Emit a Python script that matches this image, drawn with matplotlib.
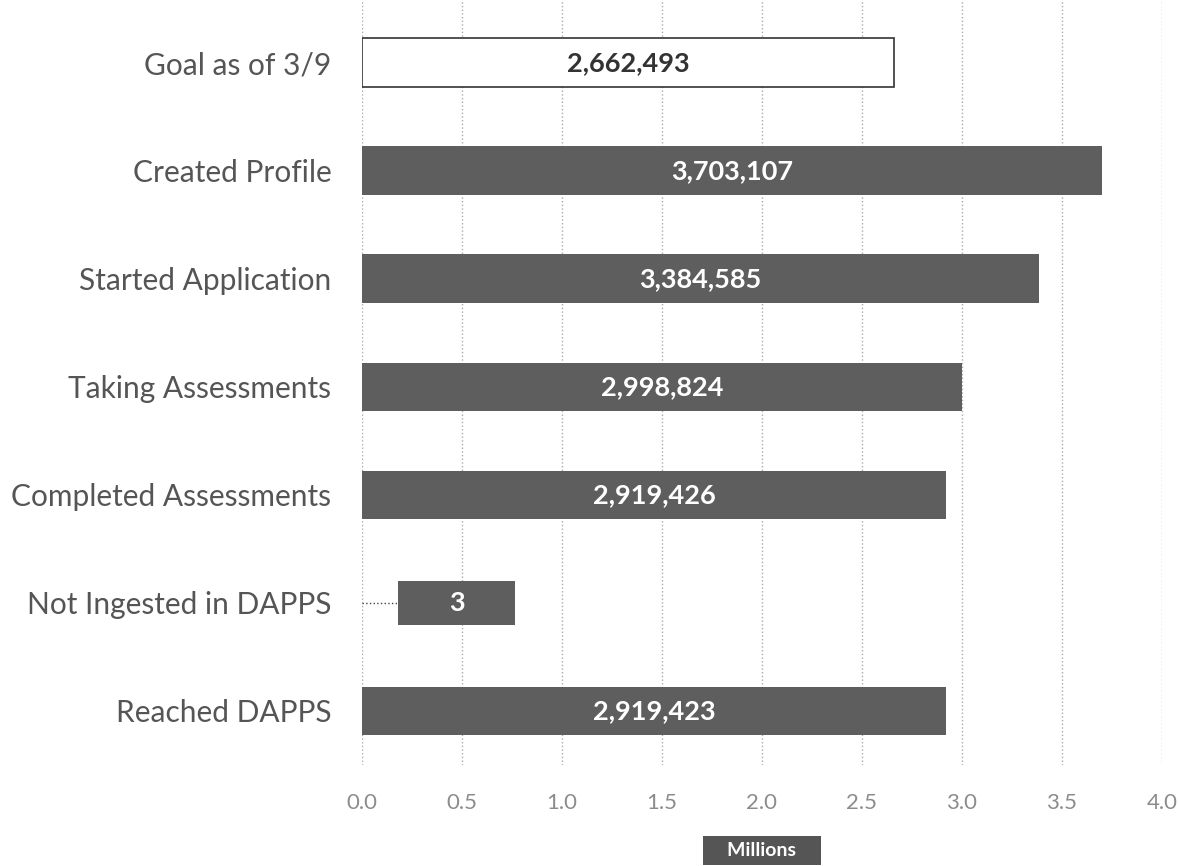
import matplotlib
matplotlib.use('Agg')
import matplotlib.pyplot as plt

categories = ['Goal as of 3/9', 'Created Profile', 'Started Application', 'Taking Assessments',
              'Completed Assessments', 'Not Ingested in DAPPS', 'Reached DAPPS']
values = [2662493, 3703107, 3384585, 2998824, 2919426, 3, 2919423]
# the "3" bar is drawn as a floating box in the original, not to scale (millions)
box_start = [0, 0, 0, 0, 0, 0.18, 0]
box_length = [2.662493, 3.703107, 3.384585, 2.998824, 2.919426, 0.585, 2.919423]
xticks = [0.0, 0.5, 1.0, 1.5, 2.0, 2.5, 3.0, 3.5, 4.0]

plt.rcParams['font.family'] = ['Lato', 'DejaVu Sans']

fig = plt.figure(figsize=(11.78, 8.66), dpi=100)
ax = fig.add_axes([0.3073, 0.1166, 0.679, 0.8834])

ypos = list(range(len(categories)))
for i, cat in enumerate(categories):
    if i == 0:
        ax.barh(i, box_length[i], left=box_start[i], height=0.45, color='white',
                edgecolor='#333333', linewidth=1.2, zorder=3)
        txt_color = '#333333'
    elif values[i] < 1000:
        ax.barh(i, box_length[i], left=box_start[i], height=0.4, color='#5e5e5e', zorder=3)
        ax.plot([0, box_start[i]], [i, i], color='#444444', lw=1, ls=':', zorder=3)
        txt_color = 'white'
    else:
        ax.barh(i, box_length[i], left=box_start[i], height=0.45, color='#5e5e5e', zorder=3)
        txt_color = 'white'
    ax.text(box_start[i] + box_length[i] / 2, i, f'{values[i]:,}', ha='center', va='center',
            color=txt_color, fontsize=19.5, fontweight='bold', zorder=4)

ax.set_yticks(ypos)
ax.set_yticklabels(categories, fontsize=21.5, color='#555555')
ax.set_ylim(6.5, -0.58)
ax.set_xlim(0, 4.0)
ax.set_xticks(xticks)
ax.set_xticklabels([f'{t:.1f}' for t in xticks], fontsize=16, color='#8c8c8c')
ax.tick_params(axis='both', length=0)
ax.tick_params(axis='x', pad=20)
ax.tick_params(axis='y', pad=22)
ax.grid(axis='x', color='#aaaaaa', ls=':', lw=1, zorder=0)
for s in ax.spines.values():
    s.set_visible(False)

ax.set_xlabel('    Millions    ', fontsize=14, fontweight='bold', color='white', labelpad=21,
              bbox=dict(facecolor='#555555', edgecolor='none', pad=4))

fig.savefig('out.png', dpi=100)
